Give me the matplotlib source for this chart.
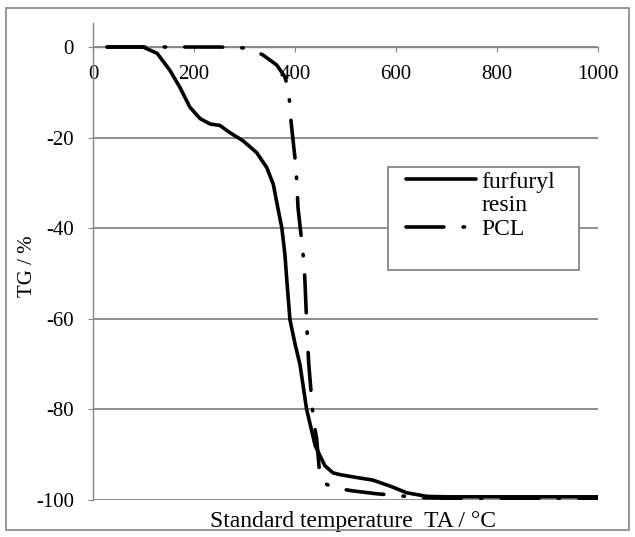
import matplotlib
matplotlib.use('Agg')
import matplotlib.pyplot as plt
from matplotlib.patches import Rectangle
from matplotlib.lines import Line2D

plt.rcParams['font.family'] = ['Liberation Serif', 'DejaVu Serif']
plt.rcParams['axes.unicode_minus'] = False

# TG curves (temperature in degC, mass change in %)
furfuryl_x = [28, 60, 99, 127, 152, 172, 192, 212, 232, 251, 271, 297, 324, 344, 357,
              366, 374, 380, 384, 390, 400, 410, 423, 440, 459, 475, 489, 520, 554,
              590, 621, 661, 700, 800, 900, 1000]
furfuryl_y = [0, 0, 0, -1.4, -5.1, -8.9, -13.3, -15.8, -17.0, -17.3, -18.9, -20.7, -23.3,
              -26.6, -30.3, -35.5, -40.0, -45.8, -51.8, -60.2, -65.5, -70.2, -80.0, -88.0,
              -92.4, -94.0, -94.4, -95.0, -95.6, -97.0, -98.4, -99.2, -99.3, -99.3, -99.3, -99.3]

pcl_x = [28, 100, 200, 250, 281, 311, 337, 364, 380, 388, 390, 394, 402, 406, 414, 418,
         420, 423, 427, 433, 436, 443, 449, 462, 477, 515, 560, 608, 660, 700, 800, 900, 1000]
pcl_y = [0, 0, 0, 0, -0.1, -0.3, -1.8, -4.0, -6.6, -9.8, -14.0, -18.4, -26.6, -35.5, -43.6,
         -48.0, -52.5, -60.6, -69.6, -77.8, -82.0, -86.6, -94.4, -96.5, -97.3, -98.0, -98.6,
         -99.1, -99.5, -99.6, -99.6, -99.6, -99.6]

x_ticks = [0, 200, 400, 600, 800, 1000]
y_ticks = [-100, -80, -60, -40, -20, 0]

GRAY = '#868686'
FS = 15
pcl_style = (0, (10.5, 5.3, 0.4, 5.3))

fig = plt.figure(figsize=(6.35, 5.37), dpi=100)
ax = fig.add_axes([93 / 635, 37 / 537, 505 / 635, 477 / 537])

ax.plot(furfuryl_x, furfuryl_y, color='black', lw=2.6, solid_joinstyle='round',
        solid_capstyle='round', zorder=5)
ax.plot(pcl_x, pcl_y, color='black', lw=2.6, linestyle=pcl_style,
        dash_capstyle='round', dash_joinstyle='round', zorder=4)

ax.set_xlim(0, 1000)
ax.set_ylim(-100, 5.3)
ax.set_xticks(x_ticks)
ax.set_yticks(y_ticks)

for s in ['top', 'right']:
    ax.spines[s].set_visible(False)
ax.spines['bottom'].set_position(('data', 0))
ax.spines['bottom'].set_color(GRAY)
ax.spines['left'].set_color(GRAY)
ax.spines['bottom'].set_linewidth(1.0)
ax.spines['left'].set_linewidth(1.0)

ax.yaxis.grid(True, color=GRAY, lw=1.3)
ax.set_axisbelow(True)

ax.tick_params(axis='x', direction='out', length=3.6, color=GRAY, pad=9, labelsize=FS)
ax.tick_params(axis='y', direction='out', length=3.6, color=GRAY, pad=10, labelsize=FS)

ax.set_ylabel('TG / %', fontsize=FS, va='center')
ax.yaxis.set_label_coords(-0.129, 0.49)
ax.set_xlabel('Standard temperature  TA / \u00b0C', fontsize=17, va='center')
ax.xaxis.set_label_coords((353 - 93) / 505, -(521 - 500) / 477)

# legend frame (covers the -40 gridline)
ax.add_patch(Rectangle((584, -49.2), 378, 22.7, facecolor='white', edgecolor=GRAY,
                       lw=1.3, zorder=3))
handles = [Line2D([], [], color='black', lw=2.6, solid_capstyle='round'),
           Line2D([], [], lw=0),
           Line2D([], [], color='black', lw=2.6, linestyle=pcl_style, dash_capstyle='round')]
ax.legend(handles, ['furfuryl', 'resin', 'PCL'], frameon=False, fontsize=17,
          loc='upper left', bbox_to_anchor=(406 / 635, 1 - 171 / 537),
          bbox_transform=fig.transFigure, borderpad=0, borderaxespad=0,
          handlelength=2.95, handletextpad=0.25, labelspacing=0.1)

fig.add_artist(Rectangle((6 / 635, 7 / 537), 623 / 635, 522 / 537, transform=fig.transFigure,
                         fill=False, edgecolor=GRAY, lw=1.2))

fig.savefig('out.png', dpi=100)
